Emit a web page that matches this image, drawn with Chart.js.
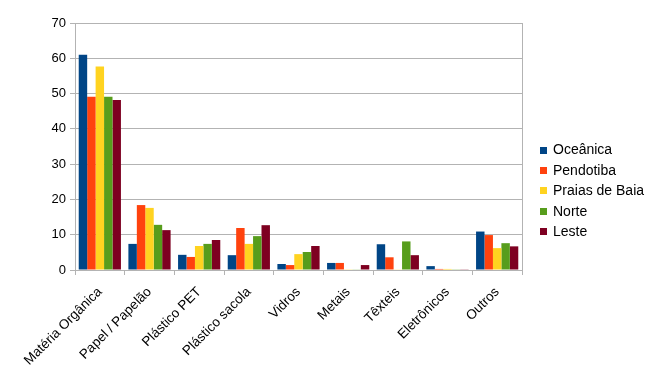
<!DOCTYPE html>
<html>
<head>
<meta charset="utf-8">
<script src="https://cdn.jsdelivr.net/npm/chart.js@4/dist/chart.umd.min.js"></script>
<style>
  html, body { margin: 0; padding: 0; background: #fff; }
  #wrap { width: 671px; height: 376px; position: relative; }
</style>
</head>
<body>
<div id="wrap"><canvas id="chart"></canvas></div>
<script>
// categories and values per region
const categories = ['Matéria Orgânica', 'Papel / Papelão', 'Plástico PET', 'Plástico sacola', 'Vidros', 'Metais', 'Têxteis', 'Eletrônicos', 'Outros'];
const oceanica = [61.0, 7.4, 4.3, 4.2, 1.7, 2.0, 7.3, 1.1, 10.9];
const pendotiba = [49.1, 18.4, 3.7, 11.9, 1.4, 2.0, 3.6, 0.3, 9.9];
const praiasDeBaia = [57.7, 17.6, 6.8, 7.4, 4.5, 0.2, 0.1, 0.3, 6.2];
const norte = [49.1, 12.8, 7.4, 9.6, 5.1, 0.1, 8.1, 0.2, 7.6];
const leste = [48.2, 11.3, 8.5, 12.7, 6.8, 1.4, 4.2, 0.2, 6.7];
const yTicks = [0, 10, 20, 30, 40, 50, 60, 70];

const font = 'Liberation Sans, Arial, sans-serif';
const lineColor = '#b3b3b3';

// right frame line + legend drawn to the right of the plot (LibreOffice style)
const frameAndLegend = {
    id: 'frameAndLegend',
    afterDraw(chart) {
        const ctx = chart.ctx;
        const area = chart.chartArea;
        ctx.save();
        ctx.strokeStyle = lineColor;
        ctx.lineWidth = 1;
        ctx.beginPath();
        ctx.moveTo(Math.round(area.right) + 0.5, area.top);
        ctx.lineTo(Math.round(area.right) + 0.5, area.bottom);
        ctx.stroke();

        ctx.font = '14px ' + font;
        ctx.textBaseline = 'middle';
        chart.data.datasets.forEach((ds, i) => {
            const y = 150 + i * 20.4;
            ctx.fillStyle = ds.backgroundColor;
            ctx.fillRect(540, Math.round(y - 3.5), 7, 7);
            ctx.fillStyle = '#000';
            ctx.fillText(ds.label, 553, y + 0.5);
        });
        ctx.restore();
    }
};

new Chart(document.getElementById('chart').getContext('2d'), {
    type: 'bar',
    data: {
        labels: categories,
        datasets: [
            { label: 'Oceânica', data: oceanica, backgroundColor: '#004586' },
            { label: 'Pendotiba', data: pendotiba, backgroundColor: '#ff420e' },
            { label: 'Praias de Baia', data: praiasDeBaia, backgroundColor: '#ffd320' },
            { label: 'Norte', data: norte, backgroundColor: '#579d1c' },
            { label: 'Leste', data: leste, backgroundColor: '#7e0021' }
        ]
    },
    options: {
        responsive: true,
        maintainAspectRatio: false,
        animation: false,
        datasets: { bar: { categoryPercentage: 0.85, barPercentage: 1.0 } },
        layout: { padding: { top: 23, left: 50, right: 149, bottom: 5 } },
        plugins: {
            legend: { display: false },
            tooltip: { enabled: false }
        },
        scales: {
            x: {
                offset: true,
                afterFit: axis => { axis.height = 101; },
                grid: {
                    offset: true,
                    drawOnChartArea: false,
                    drawTicks: true,
                    tickLength: 5,
                    color: lineColor
                },
                border: { color: lineColor },
                ticks: {
                    color: '#000',
                    maxRotation: 45,
                    minRotation: 45,
                    padding: 9,
                    font: { family: font, size: 13.5 }
                }
            },
            y: {
                min: 0,
                max: 70,
                afterBuildTicks: axis => { axis.ticks = yTicks.map(v => ({ value: v })); },
                afterFit: axis => { axis.width = 25; },
                grid: { color: lineColor, tickLength: 5 },
                border: { color: lineColor },
                ticks: {
                    color: '#000',
                    padding: 4,
                    font: { family: font, size: 13 }
                }
            }
        }
    },
    plugins: [frameAndLegend]
});
</script>
</body>
</html>
